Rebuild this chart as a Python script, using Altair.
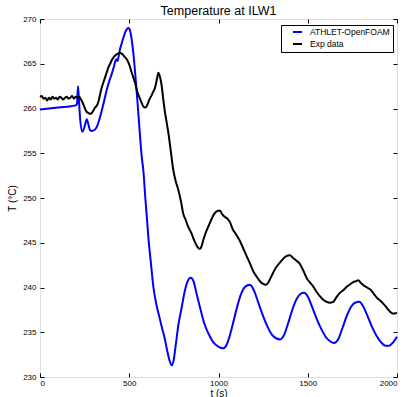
import altair as alt
import pandas as pd

series_names = ["ATHLET-OpenFOAM", "Exp data"]
series_colors = ["#0000ff", "#000000"]

t_sim = [0, 50, 100, 150, 200, 207, 213, 218, 225, 237, 250, 262, 270, 280, 290, 305, 317, 330,
         345, 360, 373, 387, 401, 413, 424, 430, 435, 441, 448, 458, 467, 477, 488, 495, 503,
         510, 517, 525, 532, 540, 547, 555, 562, 570, 579, 590, 600, 607, 620, 635, 650, 665,
         682, 700, 715, 728, 738, 748, 760, 775, 794, 810, 825, 844, 860, 875, 896, 920, 945,
         970, 999, 1027, 1050, 1075, 1100, 1125, 1150, 1176, 1200, 1225, 1250, 1275, 1300,
         1325, 1345, 1365, 1390, 1415, 1440, 1460, 1479, 1500, 1525, 1550, 1575, 1600, 1625,
         1647, 1670, 1695, 1720, 1745, 1765, 1789, 1810, 1835, 1860, 1885, 1910, 1935, 1957,
         1975, 2000]
T_sim = [259.9, 260.0, 260.1, 260.2, 260.35, 260.5, 262.5, 261.0, 258.8, 257.4, 258.0, 258.8,
         258.3, 257.6, 257.5, 257.6, 257.9, 258.6, 259.7, 260.9, 262.0, 263.0, 263.8, 264.6,
         265.4, 265.5, 265.3, 265.9, 266.6, 267.3, 267.9, 268.5, 268.9, 269.0, 268.8, 268.2,
         267.2, 265.8, 264.2, 262.3, 260.5, 258.4, 256.5, 254.6, 253.1, 250.0, 247.5, 245.6,
         243.0, 240.1, 238.3, 237.0, 235.6, 234.2, 232.7, 231.7, 231.3, 231.8, 233.5, 235.8,
         237.8, 239.5, 240.6, 241.1, 240.7, 239.5, 237.8, 236.0, 234.8, 233.9, 233.4, 233.2,
         233.8, 235.5, 237.5, 239.2, 240.1, 240.3, 239.6, 238.2, 236.8, 235.6, 234.7, 234.3,
         234.2, 234.6, 236.0, 237.6, 238.8, 239.3, 239.4, 239.0, 237.8, 236.5, 235.4, 234.5,
         234.0, 233.8, 234.2, 235.5, 236.9, 237.9, 238.3, 238.4, 237.9, 236.8, 235.6, 234.6,
         233.9, 233.5, 233.5, 233.8, 234.5]

t_exp = [0, 10, 20, 30, 40, 50, 60, 70, 80, 90, 100, 110, 120, 130, 140, 150, 160, 170, 180,
         190, 200, 210, 220, 230, 240, 250, 262, 272, 280, 290, 300, 308, 318, 328, 337, 345,
         355, 365, 375, 383, 393, 405, 420, 433, 448, 460, 473, 486, 500, 514, 524, 532, 546,
         560, 572, 580, 588, 596, 605, 615, 626, 635, 644, 652, 658, 663, 668, 675, 682, 690,
         700, 710, 719, 733, 747, 760, 775, 790, 803, 815, 830, 850, 865, 880, 896, 905, 915,
         930, 945, 960, 975, 990, 1008, 1020, 1035, 1050, 1064, 1080, 1100, 1120, 1140, 1160,
         1176, 1195, 1214, 1232, 1250, 1266, 1280, 1295, 1310, 1328, 1345, 1362, 1380, 1400,
         1418, 1437, 1457, 1475, 1495, 1515, 1531, 1550, 1569, 1588, 1606, 1622, 1643, 1660,
         1680, 1699, 1720, 1740, 1755, 1770, 1783, 1798, 1815, 1832, 1849, 1870, 1890, 1908,
         1923, 1940, 1952, 1961, 1975, 1990, 2000]
T_exp = [261.3, 261.4, 261.1, 261.2, 260.9, 261.2, 261.0, 261.3, 261.1, 261.2, 261.0, 261.3,
         261.2, 261.0, 261.2, 261.3, 261.1, 261.2, 261.4, 261.1, 261.3, 261.2, 261.3, 261.0,
         260.6, 260.1, 259.6, 259.5, 259.4, 259.5, 259.8, 260.1, 260.3, 260.8, 261.6, 262.3,
         262.9, 263.5, 264.1, 264.6, 265.0, 265.5, 265.9, 266.1, 266.2, 266.1, 265.8, 265.5,
         264.9, 264.0, 263.4, 262.9, 261.8, 261.1, 260.5, 260.2, 260.1, 260.2, 260.6, 261.1,
         261.5, 261.9, 262.3, 263.0, 263.6, 264.0, 263.8, 263.3, 262.5, 261.1, 259.6, 258.4,
         257.3, 255.2, 253.1, 251.9, 250.9, 249.6, 248.2, 247.6, 246.8, 246.0, 245.2, 244.6,
         244.3, 244.6, 245.3, 246.2, 246.9, 247.6, 248.2, 248.5, 248.6, 248.2, 247.9, 247.7,
         247.3, 246.5, 245.9, 245.2, 244.3, 243.4, 242.7, 241.8, 241.2, 240.7, 240.4, 240.3,
         240.6, 241.2, 241.8, 242.4, 242.8, 243.2, 243.5, 243.6, 243.3, 243.0, 242.6, 241.9,
         241.0, 240.5, 240.1, 239.5, 239.0, 238.6, 238.4, 238.3, 238.4, 238.9, 239.4, 239.7,
         240.1, 240.4, 240.6, 240.7, 240.8, 240.5, 240.2, 240.0, 239.8, 239.3, 238.8, 238.5,
         238.2, 237.8, 237.5, 237.3, 237.1, 237.1, 237.2]

x_ticks = [0, 500, 1000, 1500, 2000]
y_ticks = [230, 235, 240, 245, 250, 255, 260, 265, 270]

df = pd.concat([
    pd.DataFrame({"t": t_sim, "T": T_sim, "series": series_names[0]}),
    pd.DataFrame({"t": t_exp, "T": T_exp, "series": series_names[1]}),
], ignore_index=True)

FONT = "Liberation Sans"
x_scale = alt.Scale(domain=[0, 2000], nice=False, zero=False)
y_scale = alt.Scale(domain=[230, 270], nice=False, zero=False)

base = alt.Chart(df)

lines = base.mark_line(strokeWidth=2, interpolate="monotone").encode(
    x=alt.X("t:Q", scale=x_scale,
            axis=alt.Axis(values=x_ticks, title="t (s)", ticks=False, domain=False, grid=False,
                          labelFontSize=8, titleFontSize=10, labelPadding=2, titlePadding=1,
                          format="d", labelFont=FONT, titleFont=FONT, labelColor="black",
                          titleColor="black", titleFontWeight="normal")),
    y=alt.Y("T:Q", scale=y_scale,
            axis=alt.Axis(values=y_ticks, title="T (°C)", ticks=False, domain=False, grid=False,
                          labelFontSize=8, titleFontSize=10, labelPadding=4, titlePadding=5,
                          format="d", labelFont=FONT, titleFont=FONT, labelColor="black",
                          titleColor="black", titleFontWeight="normal")),
    color=alt.Color("series:N", sort=series_names,
                    scale=alt.Scale(domain=series_names, range=series_colors),
                    legend=alt.Legend(title=None, orient="none", legendX=241, legendY=6,
                                      strokeColor="black", fillColor="white", padding=3,
                                      labelFont=FONT, labelFontSize=8.5, labelColor="black",
                                      symbolType="stroke", symbolStrokeWidth=2, symbolSize=81,
                                      symbolOffset=8, labelOffset=7, rowPadding=3,
                                      clipHeight=8, cornerRadius=0)),
)

def tick_layer(xorient, yorient):
    return base.mark_line(strokeOpacity=0).encode(
        x=alt.X("t:Q", scale=x_scale,
                axis=alt.Axis(orient=xorient, values=x_ticks, offset=-4, tickSize=4,
                              labels=False, domain=False, grid=False, title=None,
                              tickColor="black", tickWidth=1)),
        y=alt.Y("T:Q", scale=y_scale,
                axis=alt.Axis(orient=yorient, values=y_ticks, offset=-4, tickSize=4,
                              labels=False, domain=False, grid=False, title=None,
                              tickColor="black", tickWidth=1)),
        detail="series:N",
    )

chart = alt.layer(
    lines, tick_layer("bottom", "left"), tick_layer("top", "right")
).resolve_axis(x="independent", y="independent").properties(
    width=357, height=358,
    title=alt.TitleParams("Temperature at ILW1", fontSize=12.5, fontWeight="normal",
                          font=FONT, color="black", offset=2, dy=4, anchor="middle"),
    autosize=alt.AutoSizeParams(type="none"),
    padding={"left": 40, "top": 19, "right": 8, "bottom": 20},
).configure_view(stroke="black", strokeWidth=1).configure(background="white")

chart.save("out.html", embed_options={"renderer": "svg", "actions": False})
